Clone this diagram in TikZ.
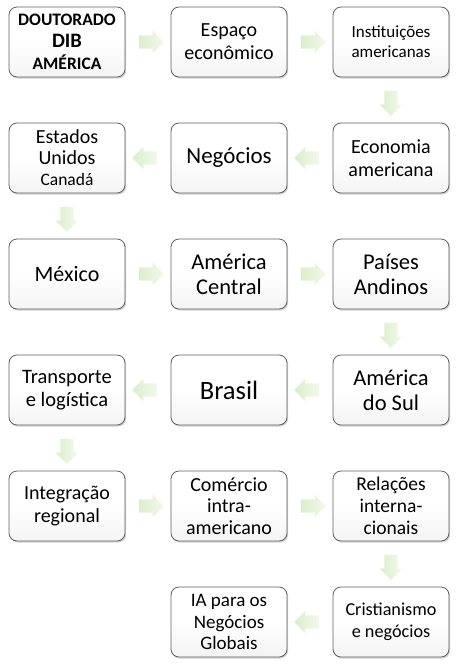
\documentclass[tikz,border=0pt]{standalone}
\usepackage{fontspec}
\setmainfont{Carlito}
\usetikzlibrary{shapes.arrows,shadows}
\definecolor{boxline}{RGB}{95,95,95}
\definecolor{arrowdark}{RGB}{220,237,205}
\definecolor{arrowlight}{RGB}{242,249,236}
\tikzset{
  box/.style={draw=boxline, line width=0.8pt, rounded corners=8pt,
    minimum width=116pt, minimum height=70pt, inner sep=2pt, align=center,
    top color=white, bottom color=gray!9, middle color=white,
    drop shadow={shadow xshift=1.2pt, shadow yshift=-1.6pt, opacity=0.35}},
  garrow/.style={single arrow, draw=none, inner sep=6.5pt,
    single arrow head extend=4.5pt, minimum height=25pt,
    left color=arrowdark, right color=arrowlight,
    sloped, allow upside down, midway},
  fs/.style 2 args={font=\fontsize{#1}{#2}\selectfont}
}
\begin{document}
\begin{tikzpicture}[x=1pt,y=-1pt]
  \useasboundingbox (0,0) rectangle (457,667);
  % row 1
  \node[box, font=\bfseries\fontsize{17.5}{22}\selectfont] (dib) at (67,42)
    {DOUTORADO\\{\fontsize{20.5}{22}\selectfont DIB}\\AMÉRICA};
  \node[box, fs={20}{23}] (espaco) at (229,42) {Espaço\\econômico};
  \node[box, fs={17}{20}] (instit) at (391,42) {Instituições\\americanas};
  % row 2
  \node[box, fs={23}{25}] (negocios) at (229,158) {Negócios};
  \node[box, fs={20}{23}] (econ) at (391,158) {Economia\\americana};
  \node[box, fs={20}{21}] (eua) at (67,158)
    {Estados\\Unidos\\{\fontsize{17.5}{21}\selectfont Canadá}};
  % row 3
  \node[box, fs={22}{25}] (mexico) at (67,274) {México};
  \node[box, fs={22.5}{25}] (central) at (229,274) {América\\Central};
  \node[box, fs={22.5}{25}] (andinos) at (391,274) {Países\\Andinos};
  % row 4
  \node[box, fs={20.5}{23}] (transp) at (67,390) {Transporte\\e logística};
  \node[box, fs={26.5}{28}] (brasil) at (229,390) {Brasil};
  \node[box, fs={22.5}{25}] (sul) at (391,390) {América\\do Sul};
  % row 5
  \node[box, fs={20}{23}] (integ) at (67,506) {Integração\\regional};
  \node[box, fs={20}{21.5}] (comercio) at (229,506) {Comércio\\intra-\\americano};
  \node[box, fs={19.5}{22}] (relacoes) at (391,506) {Relações\\interna-\\cionais};
  % row 6
  \node[box, fs={19}{21.5}] (ia) at (229,622) {IA para os\\Negócios\\Globais};
  \node[box, fs={18.2}{22}] (crist) at (391,622) {Cristianismo\\e negócios};
  % arrows
  \path (dib) -- node[garrow] {} (espaco);
  \path (espaco) -- node[garrow] {} (instit);
  \path (instit) -- node[garrow] {} (econ);
  \path (econ) -- node[garrow] {} (negocios);
  \path (negocios) -- node[garrow] {} (eua);
  \path (eua) -- node[garrow] {} (mexico);
  \path (mexico) -- node[garrow] {} (central);
  \path (central) -- node[garrow] {} (andinos);
  \path (andinos) -- node[garrow] {} (sul);
  \path (sul) -- node[garrow] {} (brasil);
  \path (brasil) -- node[garrow] {} (transp);
  \path (transp) -- node[garrow] {} (integ);
  \path (integ) -- node[garrow] {} (comercio);
  \path (comercio) -- node[garrow] {} (relacoes);
  \path (relacoes) -- node[garrow] {} (crist);
  \path (crist) -- node[garrow] {} (ia);
\end{tikzpicture}
\end{document}
